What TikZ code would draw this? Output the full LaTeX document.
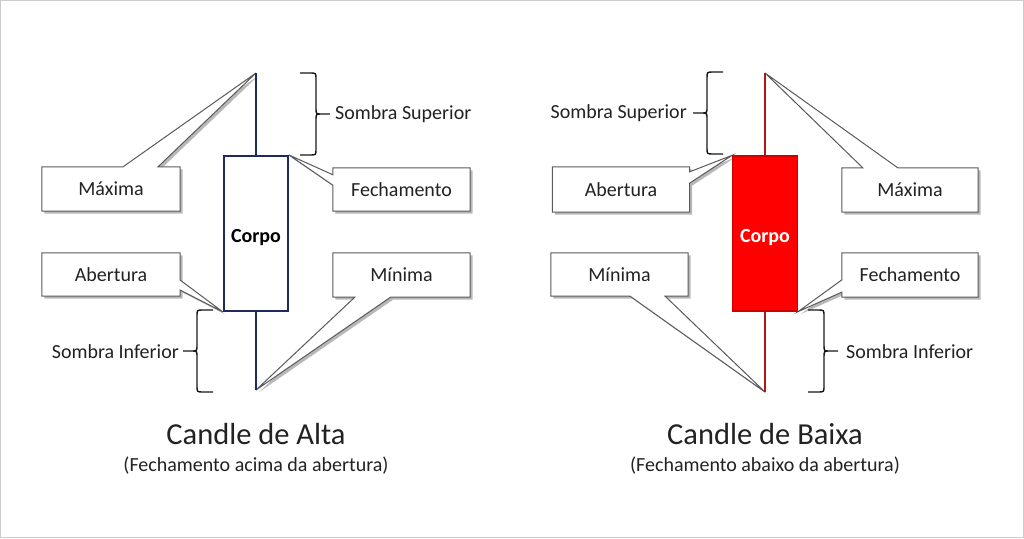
\documentclass[tikz,border=0pt]{standalone}
\usepackage{fontspec}
\setmainfont{Carlito}
\usetikzlibrary{calc,shadows,backgrounds}
\definecolor{navy}{HTML}{1F2A5E}
\definecolor{wickred}{HTML}{B01818}
\definecolor{bodyred}{HTML}{FF0000}
\definecolor{bodyredline}{HTML}{D00000}
\definecolor{calloutline}{HTML}{5A5A5A}
\definecolor{txt}{HTML}{222222}
\tikzset{
  lbl/.style={font=\fontsize{20}{24}\selectfont, text=txt, inner sep=0pt},
  cbox/.style={lbl, draw=none},
  cpath/.style={draw=calloutline, line width=1pt, fill=white, line join=miter,
    drop shadow={shadow xshift=2.5pt, shadow yshift=-2.5pt, fill=black, opacity=0.28}},
  brc/.style={draw=black!90, line width=1.4pt},
  wickA/.style={draw=navy, line width=2pt},
  wickB/.style={draw=wickred, line width=2pt},
  bodyA/.style={draw=navy, line width=2pt, fill=white, minimum width=64pt, minimum height=155pt, inner sep=0pt},
  bodyB/.style={draw=bodyredline, line width=1.2pt, fill=bodyred, minimum width=65pt, minimum height=155pt, inner sep=0pt},
  corpo/.style={font=\fontsize{20}{24}\selectfont\bfseries, inner sep=0pt},
  ttl/.style={font=\fontsize{30.5}{36}\selectfont, text=txt, inner sep=0pt, anchor=base},
  sub/.style={font=\fontsize{20}{24}\selectfont, text=txt, inner sep=0pt, anchor=base},
}
\newcommand{\bracepath}{(0,0) -- (10,0) .. controls (16,0) .. (16,6) -- (16,35) .. controls (16,41) .. (21,41) -- (30,41)
  (21,41) .. controls (16,41) .. (16,47) -- (16,76) .. controls (16,82) .. (10,82) -- (0,82)}
\begin{document}
\begin{tikzpicture}[x=1pt, y=-1pt]
\useasboundingbox (0,0) rectangle (1024,538);
\begin{pgfonlayer}{background}
\fill[white] (0,0) rectangle (1024,538);
\draw[black!20, line width=1pt] (0.5,0.5) rectangle (1023.5,537.5);
\end{pgfonlayer}

% ---------------- Left candle (Alta) ----------------
\coordinate (hiA) at (256,73);
\coordinate (loA) at (256,390);
\draw[wickA] (hiA) -- (loA);
\node[bodyA] (bodyA) at (256,233.5) {};
\node[corpo, text=black] (corpoA) at (256,238) {Corpo};

\node[cbox, minimum width=138pt, minimum height=44pt] (maxA) at (111,189) {Máxima};
\node[cbox, minimum width=137pt, minimum height=43pt] (fecA) at (401.5,189.5) {Fechamento};
\node[cbox, minimum width=138pt, minimum height=43pt] (abeA) at (111,274.5) {Abertura};
\node[cbox, minimum width=137pt, minimum height=44pt] (minA) at (401.5,275) {Mínima};

\begin{pgfonlayer}{background}
\draw[cpath] (maxA.north west) -- ($(maxA.north west)!0.587!(maxA.north east)$) -- (hiA)
  -- ($(maxA.north west)!0.84!(maxA.north east)$) -- (maxA.north east) -- (maxA.south east)
  -- (maxA.south west) -- cycle;
\draw[cpath] (fecA.north west) -- (fecA.north east) -- (fecA.south east) -- (fecA.south west)
  -- ($(fecA.north west)!0.40!(fecA.south west)$) -- (bodyA.north east)
  -- ($(fecA.north west)!0.16!(fecA.south west)$) -- cycle;
\draw[cpath] (abeA.north west) -- (abeA.north east) -- ($(abeA.north east)!0.63!(abeA.south east)$)
  -- (bodyA.south west) -- ($(abeA.north east)!0.86!(abeA.south east)$) -- (abeA.south east)
  -- (abeA.south west) -- cycle;
\draw[cpath] (minA.north west) -- (minA.north east) -- (minA.south east)
  -- ($(minA.south west)!0.42!(minA.south east)$) -- (loA)
  -- ($(minA.south west)!0.16!(minA.south east)$) -- (minA.south west) -- cycle;
\end{pgfonlayer}

\draw[brc, shift={(300,73)}] \bracepath;
\node[lbl, anchor=west] (supA) at (335,114) {Sombra Superior};
\draw[brc, shift={(213,310)}, xscale=-1] \bracepath;
\node[lbl, anchor=east] (infA) at (179,352) {Sombra Inferior};

\node[ttl] (ttlA) at (256,444) {Candle de Alta};
\node[sub] (subA) at (256,471) {(Fechamento acima da abertura)};

% ---------------- Right candle (Baixa) ----------------
\coordinate (hiB) at (765,73);
\coordinate (loB) at (765,392);
\draw[wickB] (hiB) -- (loB);
\node[bodyB] (bodyB) at (765,233.5) {};
\node[corpo, text=white] (corpoB) at (765,238) {Corpo};

\node[cbox, minimum width=137pt, minimum height=45pt] (abeB) at (621,189.5) {Abertura};
\node[cbox, minimum width=136pt, minimum height=44pt] (maxB) at (910,190) {Máxima};
\node[cbox, minimum width=137pt, minimum height=43pt] (minB) at (619.5,274.5) {Mínima};
\node[cbox, minimum width=136pt, minimum height=44pt] (fecB) at (910,275) {Fechamento};

\begin{pgfonlayer}{background}
\draw[cpath] (abeB.north west) -- (abeB.north east) -- ($(abeB.north east)!0.11!(abeB.south east)$)
  -- (bodyB.north west) -- ($(abeB.north east)!0.36!(abeB.south east)$) -- (abeB.south east)
  -- (abeB.south west) -- cycle;
\draw[cpath] (maxB.north west) -- ($(maxB.north west)!0.154!(maxB.north east)$) -- (hiB)
  -- ($(maxB.north west)!0.41!(maxB.north east)$) -- (maxB.north east) -- (maxB.south east)
  -- (maxB.south west) -- cycle;
\draw[cpath] (minB.north west) -- (minB.north east) -- (minB.south east)
  -- ($(minB.south west)!0.832!(minB.south east)$) -- (loB)
  -- ($(minB.south west)!0.577!(minB.south east)$) -- (minB.south west) -- cycle;
\draw[cpath] (fecB.north west) -- (fecB.north east) -- (fecB.south east) -- (fecB.south west)
  -- ($(fecB.north west)!0.886!(fecB.south west)$) -- (bodyB.south east)
  -- ($(fecB.north west)!0.61!(fecB.south west)$) -- cycle;
\end{pgfonlayer}

\draw[brc, shift={(723,72)}, xscale=-1] \bracepath;
\node[lbl, anchor=east] (supB) at (687,113) {Sombra Superior};
\draw[brc, shift={(808,310)}] \bracepath;
\node[lbl, anchor=west] (infB) at (846,352) {Sombra Inferior};

\node[ttl] (ttlB) at (765,444) {Candle de Baixa};
\node[sub] (subB) at (765,471) {(Fechamento abaixo da abertura)};
\end{tikzpicture}
\end{document}
